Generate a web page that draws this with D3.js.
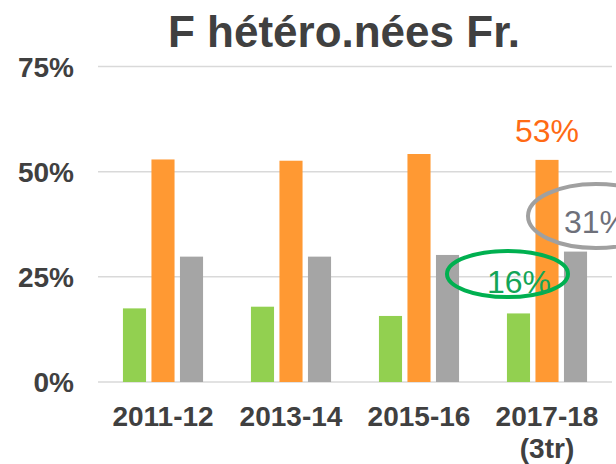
<!DOCTYPE html>
<html><head><meta charset="utf-8">
<script src="https://cdn.jsdelivr.net/npm/d3@7"></script>
<style>body{margin:0;background:#fff}svg{display:block}</style>
</head><body>
<script>
const title = "F hétéro.nées Fr.";
const categories = ["2011-12", "2013-14", "2015-16", "2017-18\n(3tr)"];
const seriesNames = ["vert", "orange", "gris"];
const greenValues = [17.5, 17.9, 15.7, 16.3];
const orangeValues = [52.9, 52.6, 54.2, 52.8];
const greyValues = [29.8, 29.8, 30.2, 31.0];
const yTicks = [0, 25, 50, 75];
const colors = ["#92d050", "#ff9933", "#a5a5a5"];

const W = 616, H = 464;
const svg = d3.select("body").append("svg").attr("width", W).attr("height", H);
const font = "'Liberation Sans', Arial, sans-serif";

const y = d3.scaleLinear().domain([0, 75]).range([382, 66.5]);
const x0 = d3.scaleBand().domain(categories).range([99, 611]).padding(0);
const x1 = d3.scaleBand().domain(seriesNames).range([0, x0.bandwidth()])
  .paddingInner(0.19).paddingOuter(0.84);

// gridlines
svg.append("g").selectAll("line").data(yTicks).join("line")
  .attr("x1", 98).attr("x2", 612)
  .attr("y1", d => y(d)).attr("y2", d => y(d))
  .attr("stroke", "#d9d9d9").attr("stroke-width", 1.5);

// y labels
svg.append("g").selectAll("text").data(yTicks).join("text")
  .attr("x", 74).attr("y", d => y(d) + 10)
  .attr("text-anchor", "end")
  .attr("font-family", font).attr("font-weight", "bold").attr("font-size", 28)
  .attr("fill", "#404040").text(d => d + "%");

// bars
const rows = categories.map((c, i) => ({cat: c, vals: [greenValues[i], orangeValues[i], greyValues[i]]}));
const g = svg.append("g").selectAll("g").data(rows).join("g")
  .attr("transform", d => `translate(${x0(d.cat)},0)`);
g.selectAll("rect").data(d => d.vals.map((v, j) => ({s: seriesNames[j], v, j}))).join("rect")
  .attr("x", d => x1(d.s)).attr("width", x1.bandwidth())
  .attr("y", d => y(d.v)).attr("height", d => y(0) - y(d.v))
  .attr("fill", d => colors[d.j]);

// x labels
svg.append("g").selectAll("text").data(categories).join("text")
  .attr("x", d => x0(d) + x0.bandwidth() / 2).attr("y", 426)
  .attr("text-anchor", "middle")
  .attr("font-family", font).attr("font-weight", "bold").attr("font-size", 28)
  .attr("fill", "#404040")
  .each(function(d) {
    const lines = d.split("\n");
    d3.select(this).selectAll("tspan").data(lines).join("tspan")
      .attr("x", x0(d) + x0.bandwidth() / 2)
      .attr("dy", (l, i) => i === 0 ? 0 : 32)
      .text(l => l);
  });

// title
svg.append("text").attr("x", 344).attr("y", 47).attr("text-anchor", "middle")
  .attr("font-family", font).attr("font-weight", "bold").attr("font-size", 44)
  .attr("fill", "#404040").text(title);

// annotations
const last = categories.length - 1;
const cxOrange = x0(categories[last]) + x1("orange") + x1.bandwidth() / 2;
svg.append("text").attr("x", cxOrange).attr("y", 142).attr("text-anchor", "middle")
  .attr("font-family", font).attr("font-size", 32).attr("fill", "#ff6a14")
  .text(Math.round(orangeValues[last]) + "%");

svg.append("ellipse").attr("cx", 507.5).attr("cy", 274).attr("rx", 60.5).attr("ry", 23)
  .attr("fill", "none").attr("stroke", "#00b050").attr("stroke-width", 4);
svg.append("text").attr("x", 519).attr("y", 293).attr("text-anchor", "middle")
  .attr("font-family", font).attr("font-size", 32).attr("fill", "#13a557")
  .text(Math.round(greenValues[last]) + "%");

svg.append("ellipse").attr("cx", 596).attr("cy", 216).attr("rx", 68).attr("ry", 32)
  .attr("fill", "none").attr("stroke", "#a0a0a0").attr("stroke-width", 4);
svg.append("text").attr("x", 564).attr("y", 233).attr("text-anchor", "start")
  .attr("font-family", font).attr("font-size", 32).attr("fill", "#6e707a")
  .text(Math.round(greyValues[last]) + "%");
</script>
</body></html>
